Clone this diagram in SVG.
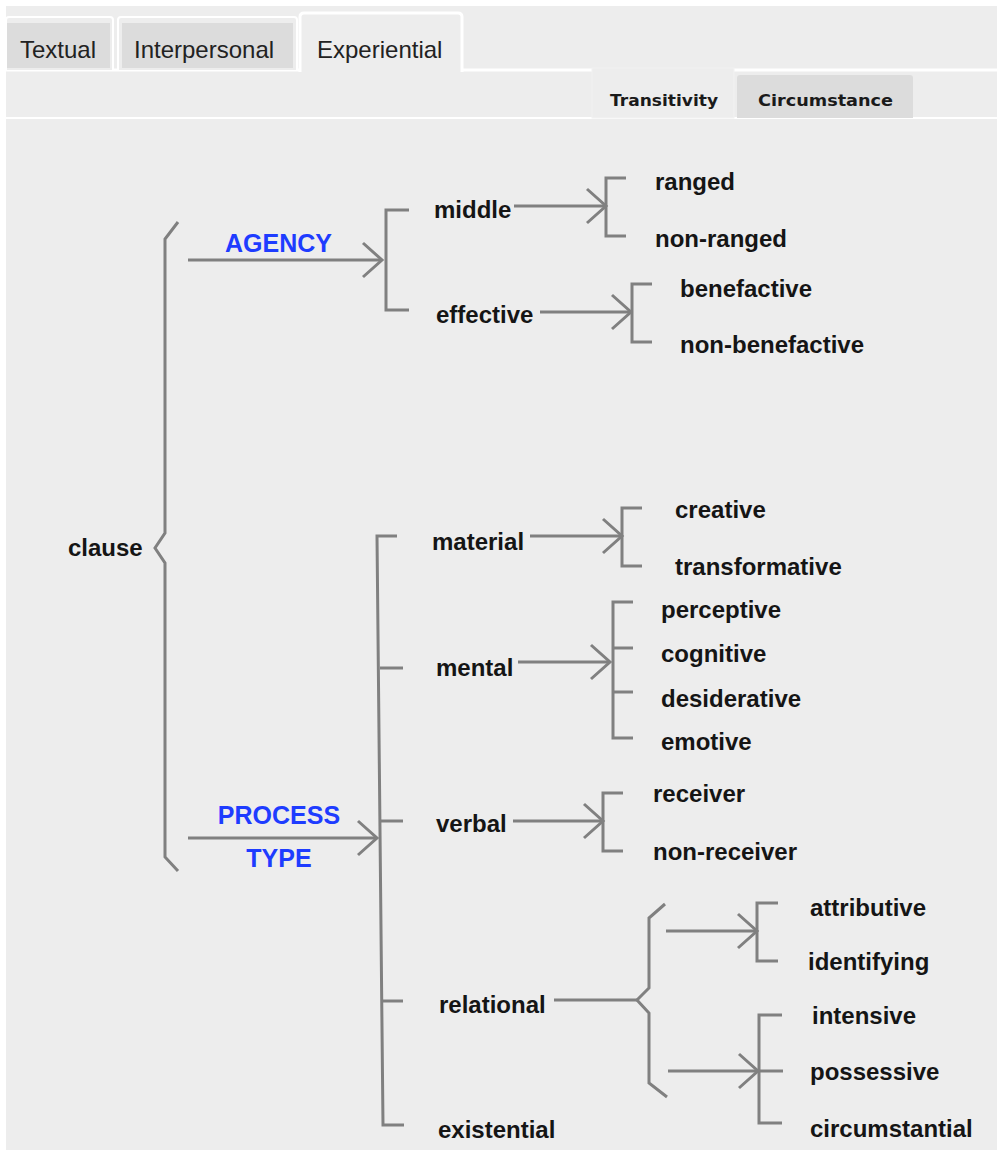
<svg xmlns="http://www.w3.org/2000/svg" width="997" height="1162" viewBox="0 0 997 1162">
  <style>
    .tab { font-family: "Liberation Sans", Arial, sans-serif; font-size: 24px; fill: #222; }
    .sub { font-family: "DejaVu Sans", Verdana, sans-serif; font-size: 16px; font-weight: bold; fill: #1a1a1a; }
    .lbl { font-family: "Liberation Sans", Arial, sans-serif; font-size: 24px; font-weight: bold; fill: #151515; }
    .sys { font-family: "Liberation Sans", Arial, sans-serif; font-size: 25px; font-weight: bold; fill: #1e3cff; }
    .ln { fill: none; stroke: #808080; stroke-width: 3; stroke-linejoin: miter; }
  </style>
  <defs>
    <marker id="open" viewBox="-22 -20 25 40" refX="0" refY="0" markerWidth="25" markerHeight="40" markerUnits="userSpaceOnUse" orient="auto">
      <path d="M-19,-17 L0,0 L-19,17" fill="none" stroke="#808080" stroke-width="3"/>
    </marker>
  </defs>

  <!-- page and panel -->
  <rect width="997" height="1162" fill="#ffffff"/>
  <rect x="6" y="6" width="991" height="1144" fill="#ededed"/>

  <!-- top tab strip -->
  <g id="tabs">
    <line x1="0" y1="70" x2="300" y2="70" stroke="#ffffff" stroke-width="3"/>
    <line x1="462" y1="70" x2="997" y2="70" stroke="#ffffff" stroke-width="3"/>
    <path d="M6,70 V20 Q6,17 9,17 H110 Q113,17 113,20 V70" fill="#ededed" stroke="#ffffff" stroke-width="2"/>
    <rect x="7" y="23" width="103" height="45" fill="#dcdcdc"/>
    <text class="tab" x="20" y="58">Textual</text>
    <path d="M118,70 V20 Q118,17 121,17 H294 Q297,17 297,20 V70" fill="#ededed" stroke="#ffffff" stroke-width="2"/>
    <rect x="122" y="23" width="171" height="45" fill="#dcdcdc"/>
    <text class="tab" x="134" y="58">Interpersonal</text>
    <path d="M300,72 V17 Q300,13 304,13 H458 Q462,13 462,17 V72" fill="#ededed" stroke="#ffffff" stroke-width="3"/>
    <text class="tab" x="317" y="58">Experiential</text>
  </g>

  <!-- sub tab strip -->
  <g id="subtabs">
    <line x1="6" y1="118" x2="997" y2="118" stroke="#ffffff" stroke-width="2"/>
    <rect x="592" y="68" width="142" height="50" fill="#ededed" stroke="#f2f2f2" stroke-width="1"/>
    <text class="sub" x="610" y="106" textLength="108" lengthAdjust="spacingAndGlyphs">Transitivity</text>
    <path d="M737,118 V78 Q737,75 740,75 H910 Q913,75 913,78 V118 Z" fill="#dcdcdc"/>
    <text class="sub" x="758" y="106" textLength="135" lengthAdjust="spacingAndGlyphs">Circumstance</text>
  </g>

  <!-- connectors: braces, brackets and arrows -->
  <g id="connectors" class="ln">
    <!-- clause brace -->
    <path d="M178,222 L165,239 V533 L155,548 L165,563 V857 L178,871"/>
    <!-- clause to systems -->
    <line x1="188" y1="260" x2="382" y2="260" marker-end="url(#open)"/>
    <line x1="188" y1="838" x2="377" y2="838" marker-end="url(#open)"/>
    <!-- AGENCY bracket -->
    <path d="M409,210 H386 V310 H409"/>
    <!-- middle -->
    <line x1="514" y1="206" x2="606" y2="206" marker-end="url(#open)"/>
    <path d="M626,178 H606 V236 H626"/>
    <!-- effective -->
    <line x1="540" y1="312" x2="631" y2="312" marker-end="url(#open)"/>
    <path d="M652,284 H632 V342 H652"/>
    <!-- PROCESS TYPE bracket -->
    <path d="M397,536 H377 L383,1125 H404"/>
    <line x1="380" y1="668" x2="403" y2="668"/>
    <line x1="381" y1="821" x2="403" y2="821"/>
    <line x1="382" y1="1001" x2="403" y2="1001"/>
    <!-- material -->
    <line x1="530" y1="536" x2="622" y2="536" marker-end="url(#open)"/>
    <path d="M642,508 H622 V566 H642"/>
    <!-- mental -->
    <line x1="518" y1="662" x2="610" y2="662" marker-end="url(#open)"/>
    <path d="M633,602 H613 V738 H633"/>
    <line x1="613" y1="648" x2="633" y2="648"/>
    <line x1="613" y1="692" x2="633" y2="692"/>
    <!-- verbal -->
    <line x1="513" y1="821" x2="603" y2="821" marker-end="url(#open)"/>
    <path d="M623,793 H603 V851 H623"/>
    <!-- relational brace -->
    <line x1="554" y1="1000" x2="637" y2="1000"/>
    <path d="M665,904 L649,918 V988 L637,1000 L649,1013 V1083 L667,1097"/>
    <!-- relational: attributive / identifying -->
    <line x1="666" y1="931" x2="757" y2="931" marker-end="url(#open)"/>
    <path d="M778,903 H757 V961 H778"/>
    <!-- relational: intensive / possessive / circumstantial -->
    <line x1="668" y1="1071" x2="758" y2="1071" marker-end="url(#open)"/>
    <path d="M782,1015 H759 V1123 H782"/>
    <line x1="759" y1="1071" x2="783" y2="1071"/>
  </g>

  <!-- nodes -->
  <g id="clause"><text class="lbl" x="68" y="556">clause</text></g>
  <g id="agency"><text class="sys" x="225" y="252">AGENCY</text></g>
  <g id="process-type">
    <text class="sys" x="279" y="824" text-anchor="middle">PROCESS</text>
    <text class="sys" x="279" y="867" text-anchor="middle">TYPE</text>
  </g>
  <g id="middle"><text class="lbl" x="434" y="218">middle</text></g>
  <g id="effective"><text class="lbl" x="436" y="323">effective</text></g>
  <g id="ranged"><text class="lbl" x="655" y="190">ranged</text></g>
  <g id="non-ranged"><text class="lbl" x="655" y="247">non-ranged</text></g>
  <g id="benefactive"><text class="lbl" x="680" y="297">benefactive</text></g>
  <g id="non-benefactive"><text class="lbl" x="680" y="353">non-benefactive</text></g>
  <g id="material"><text class="lbl" x="432" y="550">material</text></g>
  <g id="creative"><text class="lbl" x="675" y="518">creative</text></g>
  <g id="transformative"><text class="lbl" x="675" y="575">transformative</text></g>
  <g id="mental"><text class="lbl" x="436" y="676">mental</text></g>
  <g id="perceptive"><text class="lbl" x="661" y="618">perceptive</text></g>
  <g id="cognitive"><text class="lbl" x="661" y="662">cognitive</text></g>
  <g id="desiderative"><text class="lbl" x="661" y="707">desiderative</text></g>
  <g id="emotive"><text class="lbl" x="661" y="750">emotive</text></g>
  <g id="verbal"><text class="lbl" x="436" y="832">verbal</text></g>
  <g id="receiver"><text class="lbl" x="653" y="802">receiver</text></g>
  <g id="non-receiver"><text class="lbl" x="653" y="860">non-receiver</text></g>
  <g id="relational"><text class="lbl" x="439" y="1013">relational</text></g>
  <g id="existential"><text class="lbl" x="438" y="1138">existential</text></g>
  <g id="attributive"><text class="lbl" x="810" y="916">attributive</text></g>
  <g id="identifying"><text class="lbl" x="808" y="970">identifying</text></g>
  <g id="intensive"><text class="lbl" x="812" y="1024">intensive</text></g>
  <g id="possessive"><text class="lbl" x="810" y="1080">possessive</text></g>
  <g id="circumstantial"><text class="lbl" x="810" y="1137">circumstantial</text></g>
</svg>
